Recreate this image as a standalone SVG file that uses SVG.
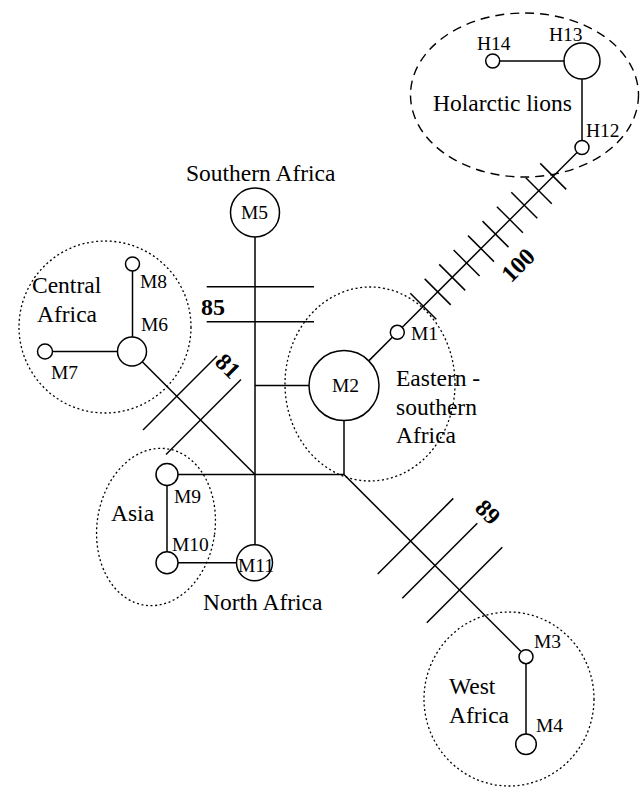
<svg xmlns="http://www.w3.org/2000/svg" width="641" height="789" viewBox="0 0 641 789">
<style>
.n{fill:#fff;stroke:#000;stroke-width:1.5}
.e{fill:none;stroke:#000;stroke-width:1.3;stroke-dasharray:2 2.6}
.d{fill:none;stroke:#000;stroke-width:1.4;stroke-dasharray:9 6}
.c line{stroke:#000;stroke-width:1.5}
text{font-family:"Liberation Serif","Times New Roman",serif;fill:#000}
.r{font-size:23.5px}
.m{font-size:19.5px}
.b{font-size:24px;font-weight:bold}
</style>
<g id="regions">
<ellipse class="d" cx="524.5" cy="95" rx="114" ry="82"/>
<circle class="e" cx="105" cy="327" r="86"/>
<ellipse class="e" cx="370" cy="384" rx="85" ry="97"/>
<ellipse class="e" cx="156" cy="527" rx="59" ry="79" transform="rotate(8 156 527)"/>
<ellipse class="e" cx="509" cy="699" rx="85" ry="87"/>
</g>
<g id="connectors" class="c">
<line x1="499.7" y1="61" x2="564" y2="61"/>
<line x1="582" y1="79" x2="582" y2="140.5"/>
<line x1="577" y1="152.5" x2="402.3" y2="327.3"/>
<line x1="392.3" y1="337.3" x2="369" y2="360.6"/>
<line x1="255" y1="237" x2="255" y2="544.7"/>
<line x1="206.7" y1="286.7" x2="314" y2="286.7"/>
<line x1="206.7" y1="321.7" x2="314" y2="321.7"/>
<line x1="255" y1="385.6" x2="309.5" y2="385.6"/>
<line x1="344" y1="420.6" x2="344" y2="474.5"/>
<line x1="178" y1="474.5" x2="344" y2="474.5"/>
<line x1="344" y1="474.5" x2="520.7" y2="651.2"/>
<line x1="526" y1="663.7" x2="526" y2="734"/>
<line x1="142.3" y1="361.8" x2="255" y2="474.5"/>
<line x1="132.5" y1="271" x2="132.5" y2="337"/>
<line x1="52.5" y1="351.5" x2="117.5" y2="351.5"/>
<line x1="167" y1="485.5" x2="167" y2="551.7"/>
<line x1="178" y1="562.7" x2="236.5" y2="562.7"/>
<line x1="143" y1="430" x2="217" y2="356"/>
<line x1="166" y1="454.5" x2="241" y2="379.5"/>
<line x1="377.7" y1="574" x2="453.3" y2="498.4"/>
<line x1="402.3" y1="598.3" x2="477.3" y2="523.3"/>
<line x1="426.8" y1="622.8" x2="502.3" y2="547.3"/>
<line x1="410.3" y1="293.3" x2="436.3" y2="319.3"/>
<line x1="424.7" y1="278.9" x2="450.7" y2="304.9"/>
<line x1="439.2" y1="264.4" x2="465.2" y2="290.4"/>
<line x1="453.6" y1="250" x2="479.6" y2="276"/>
<line x1="468" y1="235.6" x2="494" y2="261.6"/>
<line x1="482.5" y1="221.1" x2="508.5" y2="247.1"/>
<line x1="496.9" y1="206.7" x2="522.9" y2="232.7"/>
<line x1="511.3" y1="192.3" x2="537.3" y2="218.3"/>
<line x1="525.8" y1="177.8" x2="551.8" y2="203.8"/>
<line x1="540.2" y1="163.4" x2="566.2" y2="189.4"/>
</g>
<g id="H14"><circle class="n" cx="492.7" cy="61" r="7"/><text class="m" x="477" y="50">H14</text></g>
<g id="H13"><circle class="n" cx="582" cy="61" r="18"/><text class="m" x="549" y="41">H13</text></g>
<g id="H12"><circle class="n" cx="582" cy="147.5" r="7"/><text class="m" x="586" y="137">H12</text></g>
<g id="M1"><circle class="n" cx="397.3" cy="332.3" r="7"/><text class="m" x="411" y="340">M1</text></g>
<g id="M2"><circle class="n" cx="344" cy="385.6" r="35"/><text class="m" x="345.5" y="392" text-anchor="middle">M2</text></g>
<g id="M3"><circle class="n" cx="526" cy="656.7" r="7"/><text class="m" x="534" y="648">M3</text></g>
<g id="M4"><circle class="n" cx="526" cy="744.3" r="10.3"/><text class="m" x="536" y="732">M4</text></g>
<g id="M5"><circle class="n" cx="255" cy="212.5" r="24.5"/><text class="m" x="254.5" y="219" text-anchor="middle">M5</text></g>
<g id="M6"><circle class="n" cx="132" cy="351.5" r="14.5"/><text class="m" x="141" y="331">M6</text></g>
<g id="M7"><circle class="n" cx="45" cy="351.5" r="7.5"/><text class="m" x="51" y="379">M7</text></g>
<g id="M8"><circle class="n" cx="132.5" cy="264" r="7"/><text class="m" x="140" y="288">M8</text></g>
<g id="M9"><circle class="n" cx="167" cy="474.5" r="11"/><text class="m" x="174" y="503">M9</text></g>
<g id="M10"><circle class="n" cx="167" cy="562.7" r="11"/><text class="m" x="172" y="551">M10</text></g>
<g id="M11"><circle class="n" cx="254.5" cy="562.7" r="18"/><text class="m" x="238" y="572">M11</text></g>
<g id="labels">
<text class="r" x="433" y="111">Holarctic lions</text>
<text class="r" x="186" y="181">Southern Africa</text>
<text class="r" x="32" y="293">Central</text>
<text class="r" x="37" y="322">Africa</text>
<text class="r" x="396" y="386">Eastern -</text>
<text class="r" x="396" y="415">southern</text>
<text class="r" x="396" y="443">Africa</text>
<text class="r" x="111" y="521">Asia</text>
<text class="r" x="203" y="610">North Africa</text>
<text class="r" x="449" y="694">West</text>
<text class="r" x="449" y="723">Africa</text>
<text class="b" x="201" y="315">85</text>
<text class="b" text-anchor="middle" transform="translate(228 366) rotate(45)" y="8">81</text>
<text class="b" text-anchor="middle" transform="translate(518 265) rotate(-45)" y="8">100</text>
<text class="b" text-anchor="middle" transform="translate(488 512) rotate(45)" y="8">89</text>
</g>
</svg>
